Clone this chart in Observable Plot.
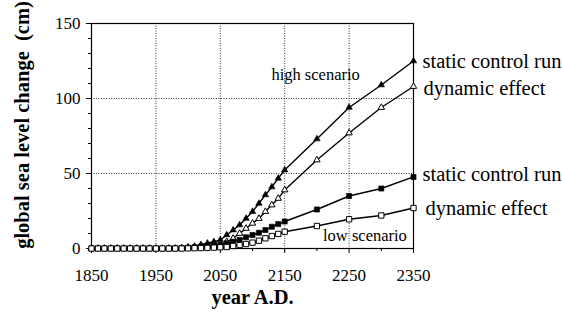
<!DOCTYPE html>
<html>
<head>
<meta charset="utf-8">
<script src="https://cdn.jsdelivr.net/npm/d3@7"></script>
<script src="https://cdn.jsdelivr.net/npm/@observablehq/plot@0.6"></script>
<style>
  html, body { margin: 0; padding: 0; background: white; }
  svg { display: block; }
  svg text { font-family: 'Liberation Serif', 'Times New Roman', serif; }
</style>
</head>
<body>
<div id="chart"></div>
<script>
// Years: every 10 years to 2150, then every 50 years
const years = [1850,1860,1870,1880,1890,1900,1910,1920,1930,1940,1950,1960,1970,1980,1990,
  2000,2010,2020,2030,2040,2050,2060,2070,2080,2090,2100,2110,2120,2130,2140,2150,
  2200,2250,2300,2350];

// High scenario, static control run (filled triangles)
const highStatic = [0,0,0,0,0,0,0,0,0,0,0,0,0,0,0.5,
  1,1.5,2.5,3.5,4.5,5.7,9,12.3,15.7,20,24.6,30,35.7,41,46.8,52.3,
  73,94,109,125];
// High scenario, dynamic effect (open triangles)
const highDynamic = [0,0,0,0,0,0,0,0,0,0,0,0,0,0,0,
  0.3,0.6,1,1.4,1.8,2.3,4.5,6.8,10,13.4,16.8,20,24.6,29,33.4,39,
  59,77,94,108];
// Low scenario, static control run (filled squares)
const lowStatic = [0,0,0,0,0,0,0,0,0,0,0,0,0,0,0.3,
  0.5,0.8,1.2,1.6,2,2.3,3.5,4.5,5.7,7.5,9,10.5,12.3,14.5,16.3,18,
  26,35,40,47.7];
// Low scenario, dynamic effect (open squares)
const lowDynamic = [0,0,0,0,0,0,0,0,0,0,0,0,0,0,0,
  0.1,0.2,0.3,0.4,0.6,0.8,1,1.7,2.3,3,3.9,5.2,6.8,8.3,9.7,11.2,
  15,19.5,22,27];

const xTickLabels = [1850,1950,2050,2150,2250,2350];
const xMinorTicks = [1900,2000,2100,2200,2300];
const yTickLabels = [0,50,100,150];
const yMinorTicks = [10,20,30,40,60,70,80,90,110,120,130,140];
const xGrid = [1950,2050,2150,2250];
const yGrid = [50,100];

const seriesNames = ["highStatic","highDynamic","lowStatic","lowDynamic"];
const seriesValues = [highStatic, highDynamic, lowStatic, lowDynamic];
const data = seriesNames.flatMap((s, k) => years.map((yr, i) => ({year: yr, value: seriesValues[k][i], series: s})));
const sub = s => data.filter(d => d.series === s);

const serif = "'Liberation Serif', 'Times New Roman', serif";

const chart = Plot.plot({
  width: 562,
  height: 313,
  marginLeft: 91,
  marginRight: 149,
  marginTop: 23,
  marginBottom: 65,
  x: {domain: [1850, 2350], label: null},
  y: {domain: [0, 150], label: null},
  style: {fontFamily: serif, fontSize: "17px", color: "black", background: "white"},
  marks: [
    Plot.gridX(xGrid, {stroke: "#333", strokeOpacity: 1, strokeDasharray: "1,1.5"}),
    Plot.gridY(yGrid, {stroke: "#333", strokeOpacity: 1, strokeDasharray: "1,1.5"}),
    Plot.frame({stroke: "black", strokeWidth: 1.2}),
    Plot.axisX(xTickLabels, {tickSize: 5, tickPadding: 15, fontSize: 17, fontFamily: serif, tickFormat: d => String(d), label: null}),
    Plot.axisX(xMinorTicks, {tickSize: 3, tickFormat: () => "", label: null}),
    Plot.axisY(yTickLabels, {tickSize: 5, tickPadding: 6, fontSize: 17, fontFamily: serif, tickFormat: d => String(d), label: null}),
    Plot.axisY(yMinorTicks, {tickSize: 3, tickFormat: () => "", label: null}),
    Plot.line(data, {x: "year", y: "value", z: "series", stroke: "black", strokeWidth: 1.4}),
    Plot.dot(sub("highStatic"), {x: "year", y: "value", symbol: "triangle", r: 2.4, fill: "black", stroke: "black", strokeWidth: 0.6}),
    Plot.dot(sub("highDynamic"), {x: "year", y: "value", symbol: "triangle", r: 2.4, fill: "white", stroke: "black", strokeWidth: 1}),
    Plot.dot(sub("lowStatic"), {x: "year", y: "value", symbol: "square", r: 2.9, fill: "black", stroke: "black", strokeWidth: 0.6}),
    Plot.dot(sub("lowDynamic"), {x: "year", y: "value", symbol: "square", r: 3, fill: "white", stroke: "black", strokeWidth: 1}),
    Plot.text(["static control run"], {x: 2350, y: 125, dx: 9, textAnchor: "start", fontSize: 20.5, fontFamily: serif}),
    Plot.text(["dynamic effect"], {x: 2350, y: 108, dx: 10, dy: 1.5, textAnchor: "start", fontSize: 20.5, fontFamily: serif}),
    Plot.text(["static control run"], {x: 2350, y: 47.7, dx: 9, dy: -3, textAnchor: "start", fontSize: 20.5, fontFamily: serif}),
    Plot.text(["dynamic effect"], {x: 2350, y: 27, dx: 12, textAnchor: "start", fontSize: 20.5, fontFamily: serif}),
    Plot.text(["high scenario"], {x: 2198, y: 115.7, fontSize: 16.5, fontFamily: serif}),
    Plot.text(["low scenario"], {x: 2274.6, y: 8.3, fontSize: 16.5, fontFamily: serif}),
    Plot.text(["global sea level change  (cm)"], {frameAnchor: "left", dx: -69, dy: -11, rotate: -90, textAnchor: "middle", lineAnchor: "middle", fontSize: 20.5, fontWeight: "bold", fontFamily: serif}),
    Plot.text(["year A.D."], {frameAnchor: "bottom", dy: 49, textAnchor: "middle", lineAnchor: "middle", fontSize: 20.5, fontWeight: "bold", fontFamily: serif})
  ]
});
document.getElementById("chart").appendChild(chart);
</script>
</body>
</html>
